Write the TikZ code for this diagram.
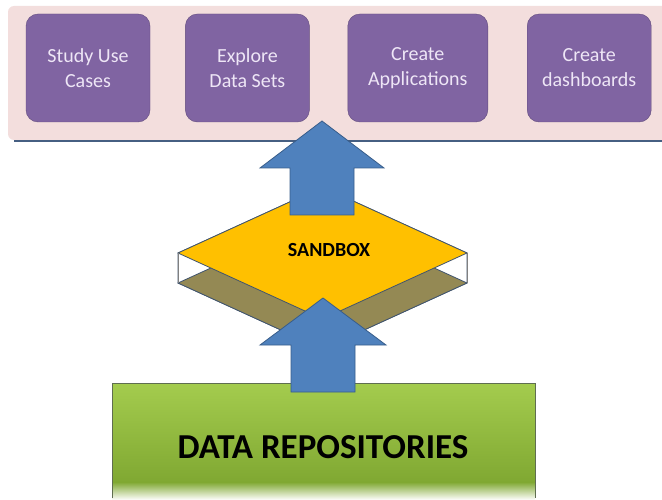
\documentclass[tikz,border=0pt]{standalone}
\usepackage{fontspec}
\setmainfont{Carlito}
\usetikzlibrary{positioning}
\definecolor{bandpink}{RGB}{243,222,221}
\definecolor{bandline}{RGB}{70,95,130}
\definecolor{taskpurple}{RGB}{128,100,162}
\definecolor{taskedge}{RGB}{98,76,125}
\definecolor{tasktext}{RGB}{238,230,246}
\definecolor{arrowblue}{RGB}{79,129,189}
\definecolor{edgeblue}{RGB}{56,93,138}
\definecolor{sandyellow}{RGB}{255,192,0}
\definecolor{sandolive}{RGB}{148,137,84}
\definecolor{sandedge}{RGB}{64,84,110}
\definecolor{repolight}{RGB}{164,204,78}
\definecolor{repodark}{RGB}{128,168,50}
\definecolor{repoedge}{RGB}{95,110,80}

\begin{document}
\begin{tikzpicture}[x=1pt,y=-1pt,
    task/.style={draw=taskedge,fill=taskpurple,rounded corners=12pt,
      minimum width=124pt,minimum height=108pt,inner sep=0pt,
      text=tasktext,align=center,font=\fontsize{20}{25}\selectfont},
    blockarrow/.style={draw=edgeblue,fill=arrowblue,line width=0.8pt}]
  \useasboundingbox (0,0) rectangle (662,500);

  % top band with the four tasks
  \fill[bandpink,rounded corners=6pt] (8,6) rectangle (680,140);
  \draw[bandline,line width=1.5pt] (14,141) -- (662,141);
  \node[task] (study) at (88,68) {Study Use\\Cases};
  \node[task,right=35pt of study] (explore) {Explore\\Data Sets};
  \node[task,minimum width=140pt,right=38pt of explore] (apps) {Create\\Applications};
  \node[task,right=39pt of apps] (dash) {Create\\dashboards};

  % sandbox slab
  \coordinate (sb) at (322.5,253);
  \begin{scope}[shift={(sb)},draw=sandedge,line width=0.8pt]
    \filldraw[fill=white] (-144.5,0) -- (0,-66) -- (144.5,0) -- (144.5,30)
      -- (0,96) -- (-144.5,30) -- cycle;
    \filldraw[fill=sandolive] (-144.5,30) -- (0,-36) -- (144.5,30) -- (0,96) -- cycle;
    \filldraw[fill=sandyellow] (-144.5,0) -- (0,-66) -- (144.5,0) -- (0,66) -- cycle;
    \draw[gray] (-144.5,0) -- (-144.5,30) (144.5,0) -- (144.5,30);
  \end{scope}
  \node[font=\bfseries\fontsize{20}{20}\selectfont] (sandbox) at (329,250) {SANDBOX};

  % arrow from sandbox up to the tasks
  \coordinate (upfoot) at (322,215);
  \draw[blockarrow,shift={(upfoot)}] (-32,0) -- (-32,-47) -- (-62,-47) -- (0,-94)
    -- (62,-47) -- (32,-47) -- (32,0) -- cycle;

  % data repositories
  \shade[top color=repolight,bottom color=repodark] (112,383) rectangle (535,482);
  \shade[top color=repodark,bottom color=white] (112,482) rectangle (535,500);
  \draw[repoedge] (112,498) -- (112,383) -- (535,383) -- (535,498);
  \node[font=\bfseries\fontsize{35}{35}\selectfont] (repo) at (323,447) {DATA REPOSITORIES};

  % arrow from repositories up to the sandbox
  \coordinate (lowfoot) at (323,392);
  \draw[blockarrow,shift={(lowfoot)}] (-32,0) -- (-32,-47) -- (-63,-47) -- (0,-94)
    -- (63,-47) -- (32,-47) -- (32,0) -- cycle;
\end{tikzpicture}
\end{document}
